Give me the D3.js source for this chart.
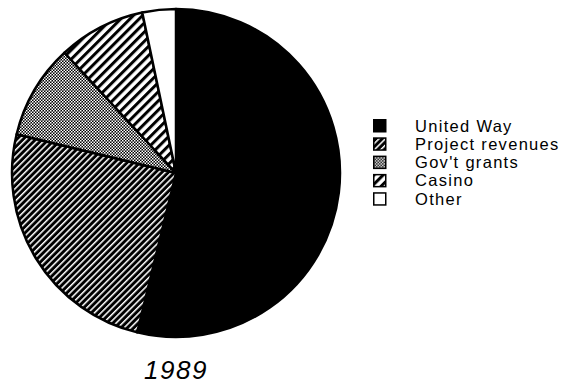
<!DOCTYPE html>
<html>
<head>
<meta charset="utf-8">
<script src="https://cdn.jsdelivr.net/npm/d3@7"></script>
<style>
  body { margin: 0; background: #fff; }
  text { font-family: "Liberation Sans", Arial, sans-serif; fill: #000; }
</style>
</head>
<body>
<div id="chart"></div>
<script>
// Part 1: data
// ==============================
var sources = ["United Way", "Project revenues", "Gov't grants", "Casino", "Other"];
var shares = [53.8, 25.0, 9.3, 8.6, 3.3];
var fills = ["#000", "url(#stripesDense)", "url(#checker)", "url(#stripesWide)", "#fff"];
var yearLabel = "1989";

// Part 2: svg
// ==============================
var svgWidth = 568, svgHeight = 384;
var cx = 176, cy = 173, radius = 164;

var svg = d3.select("#chart")
  .append("svg")
  .attr("width", svgWidth)
  .attr("height", svgHeight);

// fill patterns
var defs = svg.append("defs");

var dense = defs.append("pattern")
  .attr("id", "stripesDense")
  .attr("patternUnits", "userSpaceOnUse")
  .attr("width", 4.5).attr("height", 8)
  .attr("patternTransform", "rotate(45)");
dense.append("rect").attr("width", 4.5).attr("height", 8).attr("fill", "#000");
dense.append("rect").attr("width", 1.5).attr("height", 8).attr("fill", "#fff");

var wide = defs.append("pattern")
  .attr("id", "stripesWide")
  .attr("patternUnits", "userSpaceOnUse")
  .attr("width", 6.5).attr("height", 8)
  .attr("patternTransform", "rotate(45)");
wide.append("rect").attr("width", 6.5).attr("height", 8).attr("fill", "#fff");
wide.append("rect").attr("width", 3).attr("height", 8).attr("fill", "#000");

var checker = defs.append("pattern")
  .attr("id", "checker")
  .attr("patternUnits", "userSpaceOnUse")
  .attr("width", 3).attr("height", 3);
checker.append("rect").attr("width", 3).attr("height", 3).attr("fill", "#000");
checker.append("rect").attr("width", 1.5).attr("height", 1.5).attr("fill", "#fff");
checker.append("rect").attr("x", 1.5).attr("y", 1.5).attr("width", 1.5).attr("height", 1.5).attr("fill", "#fff");

// Part 3: pie
// ==============================
var pie = d3.pie().sort(null).value(d => d);
var arc = d3.arc().innerRadius(0).outerRadius(radius);

var pieGroup = svg.append("g")
  .attr("transform", `translate(${cx}, ${cy})`);

pieGroup.selectAll("path")
  .data(pie(shares))
  .enter()
  .append("path")
  .attr("d", arc)
  .attr("fill", (d, i) => fills[i])
  .attr("stroke", "#000")
  .attr("stroke-width", 2.5)
  .attr("stroke-linejoin", "round");

// year caption
svg.append("text")
  .attr("x", cx)
  .attr("y", 379)
  .attr("text-anchor", "middle")
  .style("font-size", "26px")
  .style("font-style", "italic")
  .style("letter-spacing", "1.5px")
  .text(yearLabel);

// Part 4: legend
// ==============================
var legend = svg.append("g")
  .attr("transform", "translate(373, 119)");

var rows = legend.selectAll("g")
  .data(sources)
  .enter()
  .append("g")
  .attr("transform", (d, i) => `translate(0, ${i * 18.3})`);

rows.append("rect")
  .attr("x", 0.75).attr("y", 0.75)
  .attr("width", 12).attr("height", 12)
  .attr("fill", (d, i) => fills[i])
  .attr("stroke", "#000")
  .attr("stroke-width", 1.5);

rows.append("text")
  .attr("x", 42)
  .attr("y", 12.5)
  .style("font-size", "16.5px")
  .style("letter-spacing", "1.3px")
  .text(d => d);
</script>
</body>
</html>
